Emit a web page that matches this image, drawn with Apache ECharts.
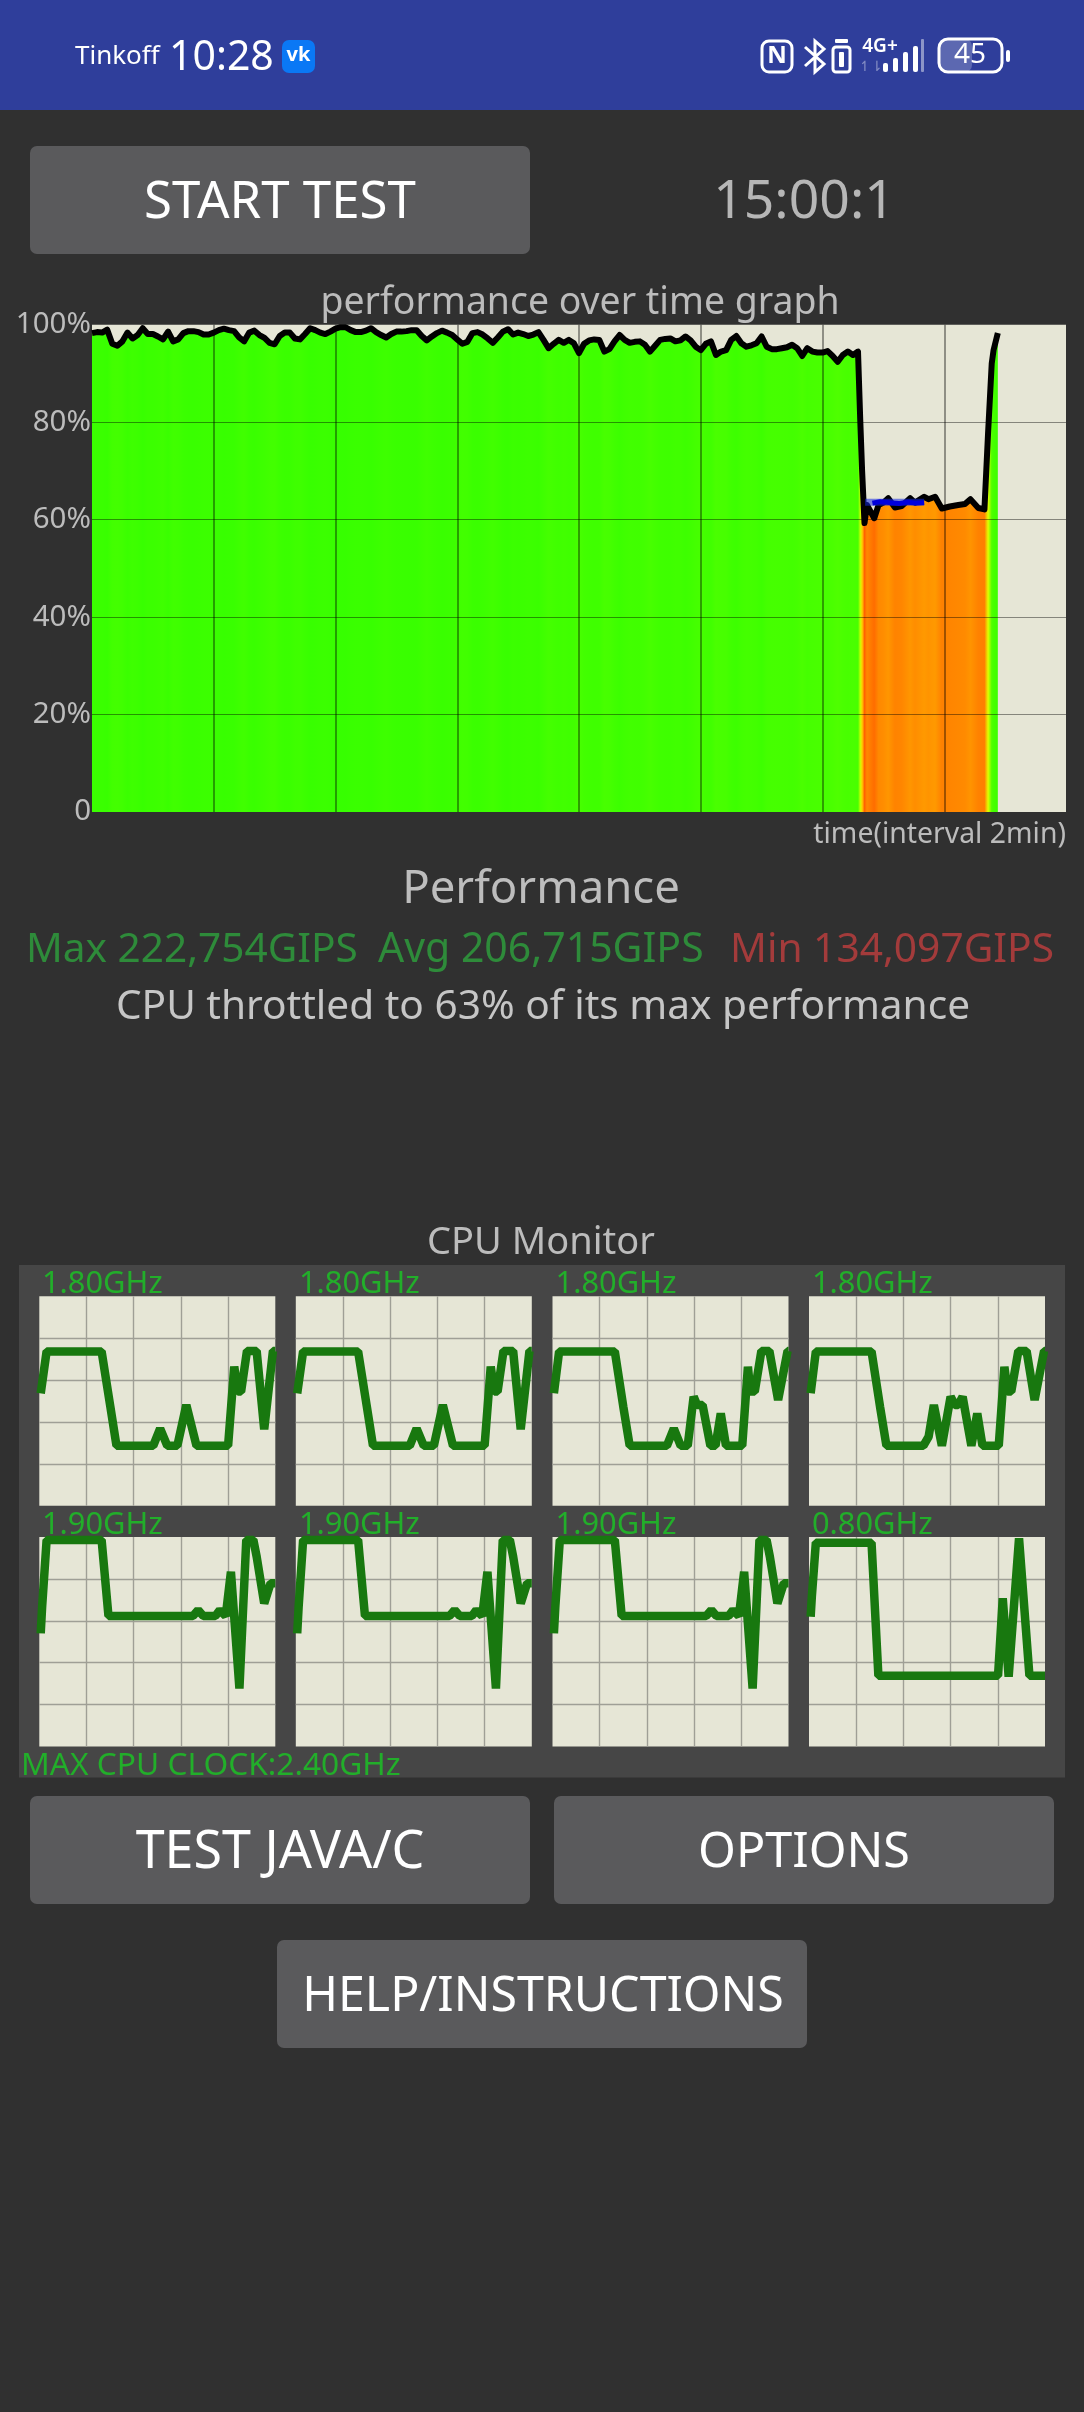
<!DOCTYPE html>
<html><head><meta charset="utf-8">
<style>html,body{margin:0;padding:0;background:#303030}#c{width:1084px;height:2412px}</style>
<script src="https://cdn.jsdelivr.net/npm/echarts@6/dist/echarts.min.js"></script>
</head><body><div id="c"></div>
<script>
// ---------- data ----------
const sampleMinutes = 5 / 60;
const perfSteady = [98.3,98.5,98.4,99.0,96.1,95.7,96.6,98.4,97.2,97.9,99.3,98.1,98.1,97.6,97.0,98.6,96.6,97.0,98.3,98.7,98.7,98.5,98,98,98.4,98.9,99.2,98.9,98.7,97.4,96.6,98.4,98.8,97.9,97.3,96.3,96,97.7,98.4,98.4,97.2,97,98.1,99.3,98.9,98.4,98.1,98.6,
99.2,99.5,99.5,98.9,98.5,98.5,98.8,99.3,98.5,97.9,97.4,98.1,98.6,98.6,98.7,98.9,98.9,97.7,96.8,97.6,98.3,98.8,98.4,97.9,97,96.1,96.5,98.3,98.5,98,97.2,96.3,97.4,98.6,99.1,98,98.4,98.1,97.7,98,98.5,96.9,95.2,96.1,96.9,96.3,96.9,
96.2,94.2,96.1,96.8,97,96.9,94.5,95,96.6,97.9,96.9,96.3,96.5,96.6,95.9,94.5,95.7,96.9,97.1,97.2,96.6,96.8,97.6,96.8,95.5,94.8,96.1,96.6,93.8,94.5,94.8,96.9,97.7,96.2,95.5,95.8,96.2,97.6,95.5,95,95,95.2,95.4,95.9,95.2,93.6,95.2,94.5,94.3,94.3,94.6,93.6,92.4,93.8,94.5,93.8,94.5];
const dropTime  = [12.62,12.65,12.69,12.73,12.85,12.92,13.0,13.08,13.19,13.30,13.44,13.52,13.67,13.74,13.85,13.96,14.09,14.23,14.34,14.43,14.56,14.66,14.72,14.78,14.81,14.88];
const dropValue = [80.5,70.2,59.3,63.0,60.3,63,63.5,64.4,62.5,62.8,64.4,63.5,64.7,64.2,64.7,62.3,62.7,63,63.2,64.2,62.4,62.1,77.8,92.1,94.8,98.3];
const blueBandTime  = [12.70,13.67];
const blueBandValue = [63.6,63.6];
const blueLineTime  = [12.82,12.95,13.1,13.25,13.4,13.55,13.67];
const blueLineValue = [63.4,63.7,63.5,63.3,63.6,63.4,63.5];
const perfTicks = {0:'0',20:'20%',40:'40%',60:'60%',80:'80%',100:'100%'};

const core1 = [[0.6,53.7],[3.1,73.7],[26.4,73.7],[30.1,47.3],[32.7,28.7],[48.3,28.7],[51.2,36.9],[54.2,28.7],[58.5,28.7],[62.3,48.1],[66.6,28.7],[80,28.7],[82.6,66.4],[84.1,54.5],[85.5,54.5],[88,73.9],[92.1,73.9],[95.3,36.5],[99,73.9],[100,73.9]];
const core2 = core1;
const core3 = [[0.6,53.7],[2.8,73.7],[26.4,73.7],[30,47.3],[32.7,28.7],[48.5,28.7],[51.4,36.9],[54.3,28.7],[57.3,28.7],[59.8,52.1],[61.3,48.1],[63.6,48.1],[66.9,28.7],[69.1,28.7],[71.3,44.1],[73.5,28.7],[80.4,28.7],[82.8,66.4],[83.8,54.5],[85.7,54.5],[88.5,73.9],[91.9,73.9],[95.6,50.5],[99.6,73.9],[100,73.9]];
const core4 = [[0.7,53.7],[2.9,73.7],[26.5,73.7],[30.1,47.3],[32.8,28.7],[48.5,28.7],[50.7,33],[52.9,48.1],[56.3,28.7],[60,52.1],[61.8,48.1],[63.2,48.1],[65.1,52.1],[68.8,28.7],[71.3,44.1],[73.5,28.7],[80.4,28.7],[82.8,66.4],[84.1,54.5],[85.7,54.5],[88.7,73.9],[92.2,73.9],[95.6,50.5],[99.6,73.9],[100,73.9]];
const core5 = [[0.6,54],[1.2,66.7],[3.1,98.6],[26.4,98.6],[29.3,62.3],[65.1,62.3],[67.3,65.1],[69.5,62.3],[74.6,62.3],[76.5,65.1],[79,62.3],[81.2,83.4],[84.8,27.7],[87.7,98.6],[90.7,98.6],[92.1,90.6],[95.3,68.3],[98,77.9],[100,77.9]];
const core6 = core5;
const core7 = core5;
const core8 = [[0.7,61.9],[1.2,71.5],[2.9,97.3],[26.5,97.3],[29.4,33.8],[80.1,33.8],[82.1,70.7],[84.6,33.3],[89,99.4],[89.7,99.4],[93.4,33.8],[100,33.8]];
const coreLabels = ['1.80GHz','1.80GHz','1.80GHz','1.80GHz','1.90GHz','1.90GHz','1.90GHz','0.80GHz'];
const cores = [core1,core2,core3,core4,core5,core6,core7,core8];

// ---------- layout ----------
const FONT = '"Noto Sans"';
const BG='#303030', BEIGE='#e6e6d6', GREEN_TXT='#22ae2a';
const perfData = perfSteady.map((v,k)=>[k*sampleMinutes,v]).concat(dropTime.map((t,i)=>[t,dropValue[i]]));
const tEnd = perfData[perfData.length-1][0];
const hueOf = v => v>=90 ? 106+(v-98)*0.8 : Math.max(22,32+(v-63)*2.37);
const fillStops = perfData.map(([t,v])=>({offset:t/tEnd,color:`hsl(${hueOf(v).toFixed(1)},100%,50%)`}));

const cellX=[39.3,295.8,552.5,809], cellW=236, cellH=209.5, cellY=[1296.3,1537];
const labelX=[42,299,555.6,812];

const grids=[{left:92,top:324.8,width:974,height:487.2,show:true,backgroundColor:BEIGE,borderWidth:0}];
const xAxes=[{type:'value',gridIndex:0,min:0,max:16,interval:2,z:2,axisLine:{show:false},axisTick:{show:false},axisLabel:{show:false},
  splitLine:{show:true,showMinLine:false,showMaxLine:false,lineStyle:{color:'rgba(0,0,0,0.5)',width:1.5}}}];
const yAxes=[{type:'value',gridIndex:0,min:0,max:100,interval:20,z:2,axisLine:{show:false},axisTick:{show:false},
  axisLabel:{margin:1,color:'#bcbcbc',fontFamily:FONT,fontSize:29.5,padding:[0,0,4,0],formatter:v=>perfTicks[v]},
  splitLine:{show:true,showMinLine:false,showMaxLine:false,lineStyle:{color:'rgba(0,0,0,0.42)',width:1.2}}}];
const series=[
 {type:'line',name:'fill',xAxisIndex:0,yAxisIndex:0,z:1,data:perfData,showSymbol:false,silent:true,lineStyle:{width:0},
   areaStyle:{opacity:1,color:new echarts.graphic.LinearGradient(0,0,1,0,fillStops)}},
 {type:'line',name:'perf',xAxisIndex:0,yAxisIndex:0,z:3,data:perfData,showSymbol:false,silent:true,lineStyle:{color:'#000',width:6,join:'round'}},
 {type:'line',name:'band',xAxisIndex:0,yAxisIndex:0,z:4,data:blueBandTime.map((t,i)=>[t,blueBandValue[i]]),showSymbol:false,silent:true,lineStyle:{color:'rgba(20,40,230,0.55)',width:7,cap:'butt'}},
 {type:'line',name:'blue',xAxisIndex:0,yAxisIndex:0,z:4,data:blueLineTime.map((t,i)=>[t,blueLineValue[i]]),showSymbol:false,silent:true,lineStyle:{color:'#0000dd',width:5}}
];
cores.forEach((d,i)=>{
  const g=i+1;
  grids.push({left:cellX[i%4],top:cellY[i<4?0:1],width:cellW,height:cellH,show:true,backgroundColor:BEIGE,borderWidth:0});
  const sl={show:true,showMinLine:false,showMaxLine:false,lineStyle:{color:'#9f9f96',width:1.4}};
  xAxes.push({type:'value',gridIndex:g,min:0,max:100,interval:20,axisLine:{show:false},axisTick:{show:false},axisLabel:{show:false},splitLine:sl});
  yAxes.push({type:'value',gridIndex:g,min:0,max:100,interval:20,axisLine:{show:false},axisTick:{show:false},axisLabel:{show:false},splitLine:sl});
  series.push({type:'line',xAxisIndex:g,yAxisIndex:g,data:d,showSymbol:false,silent:true,lineStyle:{color:'#18780f',width:8.5,join:'bevel',cap:'butt'}});
});

const T=(text,x,y,size,fill,align='center',weight=400,family=FONT)=>({type:'text',silent:true,style:{text,x,y,fill,align,verticalAlign:'middle',font:`${weight} ${size}px ${family}`}});
const R=(x,y,w,h,fill,r=6,z)=>({type:'rect',silent:true,z:z||0,shape:{x,y,width:w,height:h,r},style:{fill}});
const SR=(x,y,w,h,r,stroke,lw)=>({type:'rect',silent:true,shape:{x,y,width:w,height:h,r},style:{fill:'none',stroke,lineWidth:lw}});
const Btn=(x,y,w,h,txt,tx,size)=>[R(x,y,w,h,'#5a5a5c',7),T(txt,tx,y+h/2+3,size,'#ffffff')];

const gfx=[
 R(0,0,1084,110,'#2f3e9b',0),
 R(19,1265,1046,512.5,'#464646',0,-5),
 T('Tinkoff',75,57,26,'#fff','left'),
 T('10:28',169,58,41,'#fff','left'),
 R(282,40,33,33,'#0a78f5',7),T('vk',298.5,55,20,'#fff','center',700),
 SR(762,41,30,31,7,'#fff',3),T('N',777,56.5,24,'#fff','center',700),
 {type:'polyline',silent:true,shape:{points:[[805,47],[824,64],[815,72],[815,41],[824,49],[805,66]]},style:{fill:'none',stroke:'#fff',lineWidth:3}},
 SR(833,47,17,25,3,'#fff',3),R(835,39,13,4,'#fff',1),R(839,52,5,15,'#fff',1),
 T('4G+',880,47,19,'#fff','center',600),
 R(883,63,5,9,'#fff',2),R(893,58,5,14,'#fff',2),R(903,52,5,20,'#fff',2),R(913,46,5,26,'#fff',2),R(921,39,3,33,'rgba(255,255,255,0.45)',1),
 T('↿⇂',871,67,14,'rgba(255,255,255,0.4)','center'),
 R(939,39,33,33,'rgba(255,255,255,0.22)',7),
 SR(939,39,63,33,9,'#fff',3),R(1006,50,4,12,'#fff',2),T('45',970,55,28,'#fff'),
 ...Btn(30,146,500,108,'START TEST',280,51),
 T('15:00:1',804,203,53.5,'#b6b6b6','center'),
 T('performance over time graph',580,303,37.4,'#bcbcbc'),
 T('time(interval 2min)',1066,835,28.4,'#bcbcbc','right'),
 T('Performance',541,890,45.5,'#bdbdbd'),
 T('Max 222,754GIPS',26,950,40.6,'#2e8b3a','left'),
 T('Avg 206,715GIPS',378,950,41,'#2e8b3a','left'),
 T('Min 134,097GIPS',730,950,40.7,'#a33b3b','left'),
 T('CPU throttled to 63% of its max performance',543,1007,40.6,'#c6c6c6'),
 T('CPU Monitor',541,1243,38,'#bcbcbc'),
 T('MAX CPU CLOCK:2.40GHz',21,1766,31.7,GREEN_TXT,'left'),
 ...coreLabels.map((l,i)=>T(l,labelX[i%4],i<4?1284:1525,30.8,GREEN_TXT,'left')),
 ...Btn(30,1796,500,108,'TEST JAVA/C',280,52),
 ...Btn(554,1796,500,108,'OPTIONS',804,48.5),
 ...Btn(277,1940,530,108,'HELP/INSTRUCTIONS',543,48.3)
];

const chart=echarts.init(document.getElementById('c'),null,{renderer:'canvas',width:1084,height:2412});
chart.setOption({animation:false,backgroundColor:BG,tooltip:{show:false},grid:grids,xAxis:xAxes,yAxis:yAxes,series,graphic:{elements:gfx}});
</script></body></html>
